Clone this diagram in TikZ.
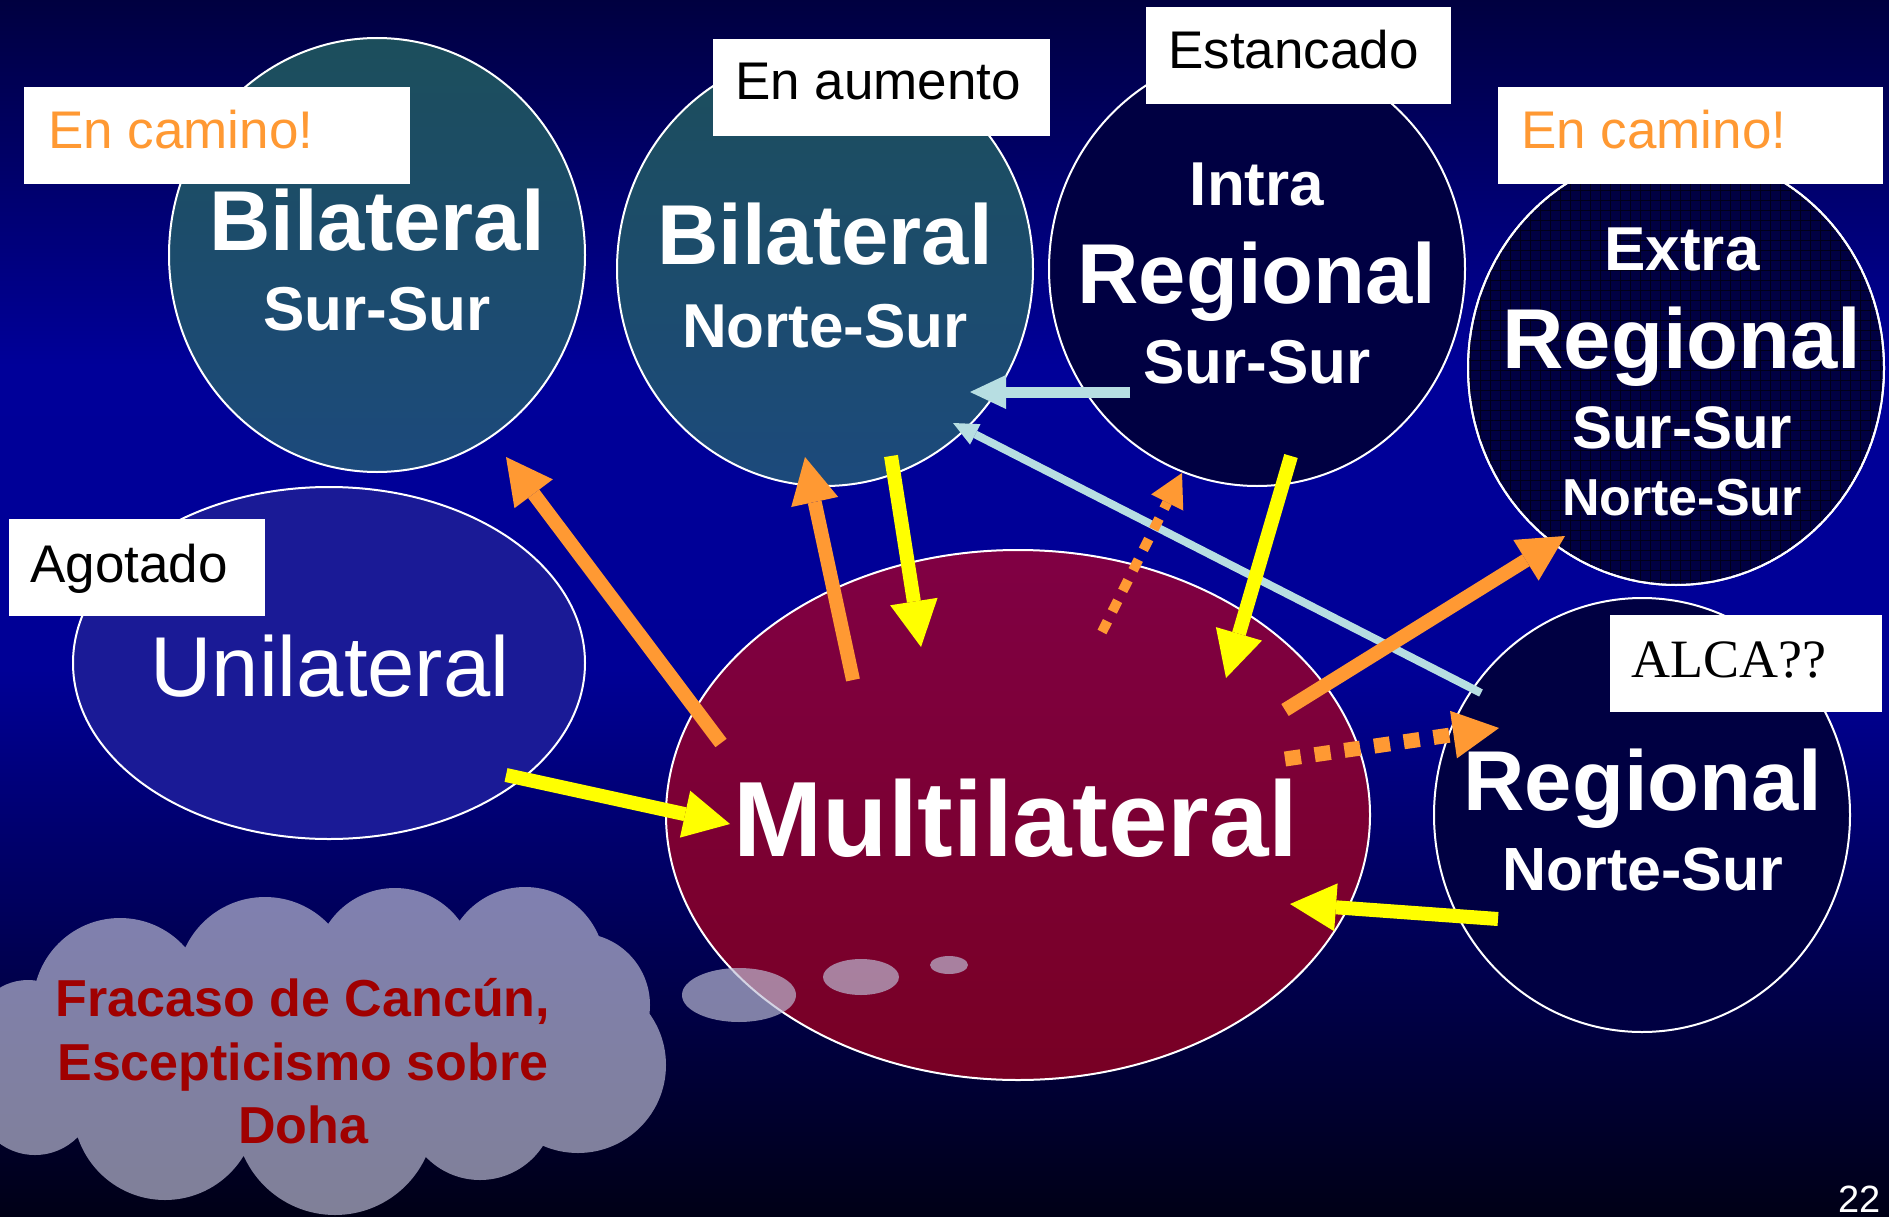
\documentclass[tikz,border=0pt]{standalone}
\usepackage{fontspec}
\setmainfont{Liberation Sans}
\newfontfamily\alcafont{Liberation Serif}
\usetikzlibrary{shapes.geometric,arrows.meta}
\definecolor{bgtop}{RGB}{0,0,64}
\definecolor{bgmid}{RGB}{0,0,153}
\definecolor{bgmidb}{RGB}{0,0,150}
\definecolor{bglow}{RGB}{0,0,105}
\definecolor{bgbot}{RGB}{0,0,22}
\definecolor{tealtop}{RGB}{28,78,92}
\definecolor{tealbot}{RGB}{28,74,124}
\definecolor{navy}{RGB}{0,0,66}
\definecolor{gridc}{RGB}{0,0,25}
\definecolor{unib}{RGB}{26,26,150}
\definecolor{multtop}{RGB}{128,0,68}
\definecolor{multbot}{RGB}{120,0,36}
\definecolor{orng}{RGB}{255,153,51}
\definecolor{ylw}{RGB}{255,255,0}
\definecolor{lblue}{RGB}{183,222,226}
\definecolor{cloudc}{RGB}{191,191,216}
\definecolor{dred}{RGB}{160,0,0}
\pgfdeclareverticalshading{bgsh}{100bp}{color(0bp)=(bgbot); color(25bp)=(bgbot); color(40bp)=(bglow); color(47.5bp)=(bgmidb); color(60bp)=(bgmid); color(75bp)=(bgtop); color(100bp)=(bgtop)}
\newcommand\myfs[1]{\fontsize{#1pt}{#1pt}\selectfont}
\begin{document}
\begin{tikzpicture}[x=1pt,y=-1pt,
  ell/.style={ellipse, draw=white, line width=2pt, inner sep=0pt, minimum width=416pt, minimum height=434pt},
  wbox/.style={fill=white, draw=none, inner sep=0pt, minimum height=97pt},
  wt/.style={text=white, inner sep=0pt, anchor=base},
  bt/.style={inner sep=0pt, anchor=base west, font=\myfs{53}},
  arr/.style={line width=14pt, -{Triangle[length=46pt,width=48pt,line width=0pt]}},
  oarr/.style={arr, orng},
  yarr/.style={arr, ylw},
  odash/.style={orng, dash pattern=on 16pt off 14pt},
  bubble/.style={fill=cloudc, opacity=0.67}
]
\useasboundingbox (0,0) rectangle (1889,1217);
\clip (0,0) rectangle (1889,1217);
\shade[shading=bgsh] (0,0) rectangle (1889,1217);

% cloud
\fill[cloudc, opacity=0.67]
  (120,1005) circle[radius=87pt] (265,985) circle[radius=88pt]
  (395,968) circle[radius=80pt] (525,967) circle[radius=80pt]
  (578,1005) circle[radius=72pt] (578,1065) circle[radius=88pt]
  (480,1105) circle[radius=75pt] (335,1115) circle[radius=100pt]
  (165,1108) circle[radius=92pt] (35,1095) circle[radius=60pt]
  (28,1035) circle[radius=55pt]
  (330,1050) ellipse[x radius=270pt, y radius=110pt];

% ellipses
\node[ell, top color=tealtop, bottom color=tealbot] (bss) at (377,255) {};
\node[ell, top color=tealtop, bottom color=tealbot] (bns) at (825,269) {};
\node[ell, fill=navy] (irss) at (1257,269) {};
\node[ell, fill=navy] (erss) at (1676,368) {};
\begin{scope}
  \clip (1676,368) ellipse[x radius=208pt, y radius=217pt];
  \draw[gridc, line width=0.7pt, step=10pt] (1460,600) grid (1900,140);
\end{scope}
\draw[white, line width=2pt] (erss.center) ellipse[x radius=208pt, y radius=217pt];
\node[ell, fill=unib, minimum width=512pt, minimum height=352pt] (uni) at (329,663) {};
\node[ell, top color=multtop, bottom color=multbot, minimum width=704pt, minimum height=530pt] (mult) at (1018,815) {};
\node[ell, fill=navy] (rns) at (1642,815) {};

% thought bubbles
\fill[bubble] (739,995) ellipse[x radius=57pt, y radius=27pt];
\fill[bubble] (861,977) ellipse[x radius=38pt, y radius=18pt];
\fill[bubble] (949,965) ellipse[x radius=19pt, y radius=9pt];

% white label boxes
\node[wbox, minimum width=386pt] (b1) at (217,135.5) {};
\node[wbox, minimum width=337pt] (b2) at (881.5,87.5) {};
\node[wbox, minimum width=305pt] (b3) at (1298.5,55.5) {};
\node[wbox, minimum width=385pt] (b4) at (1690.5,135.5) {};
\node[wbox, minimum width=256pt] (b5) at (137,567.5) {};
\node[wbox, minimum width=272pt] (b6) at (1746,663.5) {};

\node[bt, text=orng] (l1) at (48,149) {En camino!};
\node[bt] (l2) at (735,100) {En aumento};
\node[bt] (l3) at (1168,69) {Estancado};
\node[bt, text=orng] (l4) at (1521,149) {En camino!};
\node[bt] (l5) at (30,582) {Agotado};
\node[bt, font=\alcafont\myfs{54}] (l6) at (1631,677) {ALCA??};

% ellipse texts
\node[wt, font=\bfseries\myfs{85}] (t1a) at (377,250) {Bilateral};
\node[wt, font=\bfseries\myfs{62}] (t1b) at (377,330) {Sur-Sur};
\node[wt, font=\bfseries\myfs{85}] (t2a) at (825,264) {Bilateral};
\node[wt, font=\bfseries\myfs{62}] (t2b) at (825,347) {Norte-Sur};
\node[wt, font=\bfseries\myfs{62}] (t3a) at (1257,206) {Intra};
\node[wt, font=\bfseries\myfs{85}] (t3b) at (1257,303) {Regional};
\node[wt, font=\bfseries\myfs{62}] (t3c) at (1257,383) {Sur-Sur};
\node[wt, font=\bfseries\myfs{62}] (t4a) at (1682,270) {Extra};
\node[wt, font=\bfseries\myfs{85}] (t4b) at (1682,368) {Regional};
\node[wt, font=\bfseries\myfs{60}] (t4c) at (1682,448) {Sur-Sur};
\node[wt, font=\bfseries\myfs{52}] (t4d) at (1682,515) {Norte-Sur};
\node[wt, font=\myfs{85}] (t5) at (330,696) {Unilateral};
\node[wt, font=\bfseries\myfs{107}] (t6) at (1016,856) {Multilateral};
\node[wt, font=\bfseries\myfs{85}] (t7a) at (1643,810) {Regional};
\node[wt, font=\bfseries\myfs{61}] (t7b) at (1643,890) {Norte-Sur};

% cloud text
\node[inner sep=0pt, anchor=base, text=dred, font=\bfseries\myfs{52}] (c1) at (303,1016) {Fracaso de Cancún,};
\node[inner sep=0pt, anchor=base, text=dred, font=\bfseries\myfs{52}] (c2) at (303,1080) {Escepticismo sobre};
\node[inner sep=0pt, anchor=base, text=dred, font=\bfseries\myfs{52}] (c3) at (303,1143) {Doha};

% page number
\node[inner sep=0pt, anchor=base west, text=white, font=\myfs{38}] (pg) at (1838,1212) {22};

% arrow end points
\coordinate (a1s) at (721,743);  \coordinate (a1e) at (506,457);
\coordinate (a2s) at (853,680);  \coordinate (a2e) at (805,457);
\coordinate (a3s) at (891,456);  \coordinate (a3e) at (921,647);
\coordinate (a4s) at (1130,392); \coordinate (a4e) at (970,392);
\coordinate (a5s) at (1481,693); \coordinate (a5e) at (953,423);
\coordinate (a6s) at (1102,632); \coordinate (a6e) at (1182,473);
\coordinate (a7s) at (1291,456); \coordinate (a7e) at (1226,678);
\coordinate (a8s) at (1285,710); \coordinate (a8e) at (1565,536);
\coordinate (a9s) at (1285,759); \coordinate (a9e) at (1499,728);
\coordinate (a10s) at (506,775); \coordinate (a10e) at (730,824);
\coordinate (a11s) at (1498,919); \coordinate (a11e) at (1290,904);

% arrows
\draw[lblue, line width=8pt, -{Triangle[length=25pt,width=23pt,line width=0pt]}] (a5s) -- (a5e);
\draw[lblue, line width=11pt, -{Triangle[length=36pt,width=34pt,line width=0pt]}] (a4s) -- (a4e);
\draw[oarr] (a1s) -- (a1e);
\draw[oarr] (a2s) -- (a2e);
\draw[yarr] (a3s) -- (a3e);
\draw[orng, line width=10pt, dash pattern=on 12pt off 11pt, -{Triangle[length=33pt,width=36pt,line width=0pt]}] (a6s) -- (a6e);
\draw[yarr] (a7s) -- (a7e);
\draw[oarr] (a8s) -- (a8e);
\draw[arr, odash, line width=15pt] (a9s) -- (a9e);
\draw[yarr] (a10s) -- (a10e);
\draw[yarr] (a11s) -- (a11e);
\end{tikzpicture}
\end{document}
